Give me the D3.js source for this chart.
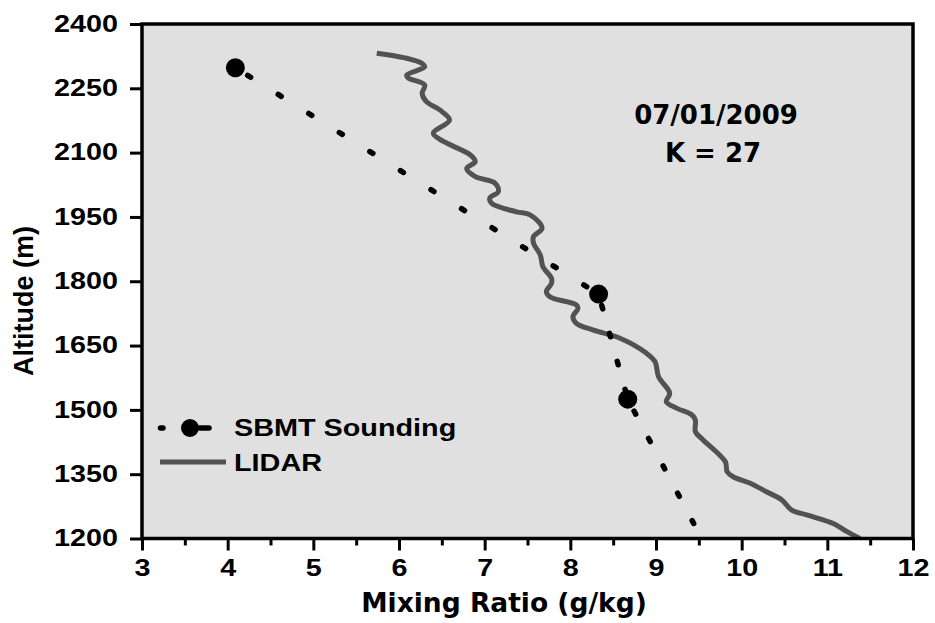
<!DOCTYPE html>
<html><head><meta charset="utf-8">
<script src="https://cdn.jsdelivr.net/npm/d3@7"></script>
<style>body{margin:0;background:#fff}</style>
</head><body><svg id="c" width="935" height="623"></svg>
<script>
// ---- data ----
const xTicks = [3,4,5,6,7,8,9,10,11,12];
const xMinorTicks = [3.5,4.5,5.5,6.5,7.5,8.5,9.5,10.5,11.5];
const yTicks = [1200,1350,1500,1650,1800,1950,2100,2250,2400];
const soundingMix = [4.09, 8.33, 8.67, 9.44];
const soundingAlt = [2298, 1770, 1525, 1235];
const soundingMarker = [true, true, true, false];
const lidarMix = [5.74,6.07,6.27,6.30,6.09,6.11,6.30,6.27,6.32,6.48,6.59,6.40,6.52,6.83,6.89,6.79,6.89,7.12,7.16,7.06,7.08,7.37,7.53,7.67,7.57,7.57,7.65,7.68,7.78,7.78,7.72,7.76,8.07,8.09,8.03,8.07,8.27,8.58,8.89,8.99,9.03,9.16,9.12,9.24,9.42,9.46,9.46,9.55,9.81,9.83,9.90,10.10,10.29,10.47,10.58,10.76,11.07,11.23,11.38];
const lidarAlt = [2332,2321,2308,2300,2281,2274,2258,2238,2219,2199,2176,2145,2126,2095,2079,2063,2044,2029,2009,1994,1982,1962,1955,1924,1904,1889,1861,1834,1807,1795,1776,1764,1745,1737,1717,1702,1686,1667,1632,1612,1577,1539,1519,1504,1488,1476,1449,1430,1379,1356,1344,1329,1309,1290,1267,1255,1235,1216,1200];
const seriesNames = ["SBMT Sounding", "LIDAR"];
const annotation = ["07/01/2009", "K = 27"];
const xLabel = "Mixing Ratio (g/kg)";
const yLabel = "Altitude (m)";

// ---- layout ----
const L = 142, R = 913, T = 24, B = 538.5;
const svg = d3.select("#c");
const x = d3.scaleLinear().domain([3,12]).range([L,R]);
const y = d3.scaleLinear().domain([1200,2400]).range([B,T]);
const ARIAL = "'Liberation Sans', Arial, sans-serif";
const GOTHIC = "'DejaVu Sans', sans-serif";
const SX = 1.25;

svg.append("rect").attr("x",L).attr("y",T).attr("width",R-L).attr("height",B-T).attr("fill","#e0e0e0");

svg.append("defs").append("clipPath").attr("id","clip")
  .append("rect").attr("x",L).attr("y",T).attr("width",R-L).attr("height",B-T);

// LIDAR
const lidar = lidarMix.map((m,i)=>({m, a: lidarAlt[i]}));
svg.append("path").attr("clip-path","url(#clip)")
  .attr("d", d3.line().x(d=>x(d.m)).y(d=>y(d.a)).curve(d3.curveCatmullRom.alpha(0.5))(lidar))
  .attr("fill","none").attr("stroke","#525252").attr("stroke-width",5)
  .attr("stroke-linejoin","round").attr("stroke-linecap","butt");

// Sounding dotted segments
const snd = soundingMix.map((m,i)=>({m, a: soundingAlt[i], mk: soundingMarker[i]}));
const segStyle = [{p:36, o:21.5},{p:29, o:17.2},{p:31, o:17.5}];
for (let i=0;i<snd.length-1;i++){
  const st = segStyle[i];
  svg.append("path")
    .attr("d", d3.line().x(d=>x(d.m)).y(d=>y(d.a))([snd[i], snd[i+1]]))
    .attr("fill","none").attr("stroke","#000").attr("stroke-width",5.5)
    .attr("stroke-linecap","round")
    .attr("stroke-dasharray", `3.5,${st.p-3.5}`).attr("stroke-dashoffset", st.o);
}
svg.selectAll("circle.snd").data(snd.filter(d=>d.mk)).join("circle").attr("class","snd")
  .attr("cx",d=>x(d.m)).attr("cy",d=>y(d.a)).attr("r",9.5).attr("fill","#000");

// frame
svg.append("rect").attr("x",L).attr("y",T).attr("width",R-L).attr("height",B-T)
  .attr("fill","none").attr("stroke","#000").attr("stroke-width",3.5);

// axes
const xAxis = svg.append("g").attr("transform",`translate(0,${B})`)
  .call(d3.axisBottom(x).tickValues(xTicks).tickSize(12).tickPadding(9).tickFormat(d3.format("d")));
const xMinor = svg.append("g").attr("transform",`translate(0,${B})`)
  .call(d3.axisBottom(x).tickValues(xMinorTicks).tickSize(7).tickFormat(""));
const yAxis = svg.append("g").attr("transform",`translate(${L},0)`)
  .call(d3.axisLeft(y).tickValues(yTicks).tickSize(12).tickPadding(12).tickFormat(d3.format("d")));
[xAxis,xMinor,yAxis].forEach(g=>{
  g.select(".domain").remove();
  g.selectAll(".tick line").attr("stroke","#000").attr("stroke-width",3);
});
xAxis.selectAll(".tick text").attr("font-family",ARIAL).attr("font-weight","bold")
  .attr("font-size",23).attr("fill","#000").attr("transform",`scale(${SX},1)`);
yAxis.selectAll(".tick text").attr("font-family",ARIAL).attr("font-weight","bold")
  .attr("font-size",23).attr("fill","#000").attr("x",-24/SX).attr("transform",`scale(${SX},1)`);

// axis titles
svg.append("text").attr("transform","translate(504,612)").attr("text-anchor","middle")
  .attr("font-family",GOTHIC).attr("font-weight","bold").attr("font-size",26.5).text(xLabel);
svg.append("text").attr("transform","translate(33,301) rotate(-90)").attr("text-anchor","middle")
  .attr("font-family",ARIAL).attr("font-weight","bold").attr("font-size",27).text(yLabel);

// annotation
svg.append("text").attr("transform","translate(716,124)").attr("text-anchor","middle")
  .attr("font-family",GOTHIC).attr("font-weight","bold").attr("font-size",26).text(annotation[0]);
svg.append("text").attr("transform","translate(713,162)").attr("text-anchor","middle")
  .attr("font-family",GOTHIC).attr("font-weight","bold").attr("font-size",26).text(annotation[1]);

// legend
const lg = svg.append("g");
lg.append("line").attr("x1",160.5).attr("x2",163).attr("y1",428).attr("y2",428)
  .attr("stroke","#000").attr("stroke-width",5.5).attr("stroke-linecap","round");
lg.append("line").attr("x1",200).attr("x2",209).attr("y1",428).attr("y2",428)
  .attr("stroke","#000").attr("stroke-width",5.5).attr("stroke-linecap","round");
lg.append("circle").attr("cx",190).attr("cy",428).attr("r",9).attr("fill","#000");
lg.append("line").attr("x1",160).attr("x2",226).attr("y1",462).attr("y2",462)
  .attr("stroke","#525252").attr("stroke-width",5);
lg.append("text").attr("transform",`translate(234,436) scale(1.2,1)`)
  .attr("font-family",ARIAL).attr("font-weight","bold").attr("font-size",24).text(seriesNames[0]);
lg.append("text").attr("transform",`translate(234,471) scale(1.2,1)`)
  .attr("font-family",ARIAL).attr("font-weight","bold").attr("font-size",24).text(seriesNames[1]);
</script></body></html>
